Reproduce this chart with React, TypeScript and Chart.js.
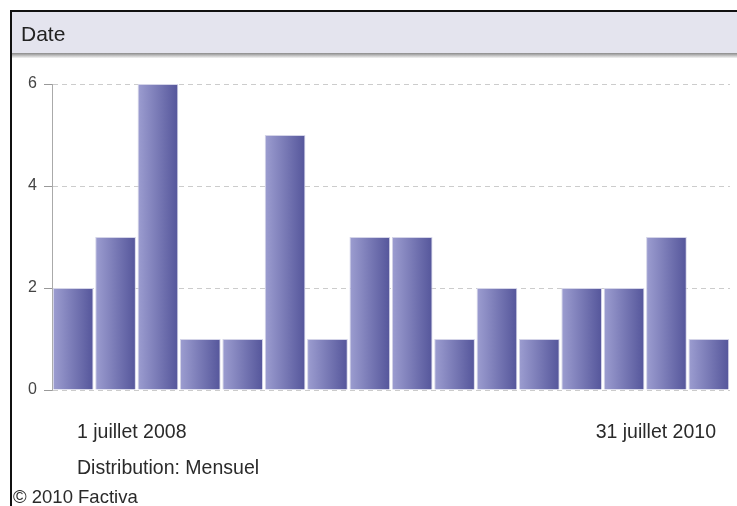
import React, { useEffect, useRef } from "react";
import { Chart, registerables } from "chart.js";

Chart.register(...registerables);

const categories = ["1", "2", "3", "4", "5", "6", "7", "8", "9", "10", "11", "12", "13", "14", "15", "16"];
const counts = [2, 3, 6, 1, 1, 5, 1, 3, 3, 1, 2, 1, 2, 2, 3, 1];
const yTicks = [0, 2, 4, 6];
const headerTitle = "Date";
const startLabel = "1 juillet 2008";
const endLabel = "31 juillet 2010";
const distributionLabel = "Distribution: Mensuel";
const copyrightLabel = "© 2010 Factiva";

const FONT = "'Liberation Sans', Arial, sans-serif";

const framePlugin = {
  id: "frame",
  beforeDraw(chart: any) {
    const ctx = chart.ctx;
    const w = chart.width;
    ctx.save();
    ctx.fillStyle = "#ffffff";
    ctx.fillRect(0, 0, w, chart.height);
    // header
    ctx.fillStyle = "#e4e4ee";
    ctx.fillRect(11, 11, w - 11, 42);
    const g = ctx.createLinearGradient(0, 53, 0, 58);
    g.addColorStop(0, "#8a8a8a");
    g.addColorStop(1, "#f4f4f4");
    ctx.fillStyle = g;
    ctx.fillRect(11, 53, w - 11, 5);
    // black borders
    ctx.fillStyle = "#111111";
    ctx.fillRect(10, 10, w - 10, 2);
    ctx.fillRect(10, 10, 2, chart.height - 10);
    ctx.fillStyle = "#222222";
    ctx.font = `21px ${FONT}`;
    ctx.textBaseline = "alphabetic";
    ctx.textAlign = "left";
    ctx.fillText(headerTitle, 21, 41);
    ctx.restore();
  },
  afterDraw(chart: any) {
    const ctx = chart.ctx;
    ctx.save();
    ctx.fillStyle = "#2a2a2a";
    ctx.font = `19.5px ${FONT}`;
    ctx.textBaseline = "alphabetic";
    ctx.textAlign = "left";
    ctx.fillText(startLabel, 77, 438);
    ctx.textAlign = "right";
    ctx.fillText(endLabel, 716, 438);
    ctx.textAlign = "left";
    ctx.fillText(distributionLabel, 77, 474);
    ctx.font = `18.5px ${FONT}`;
    ctx.fillText(copyrightLabel, 13, 503);
    ctx.restore();
  },
};

export default function App() {
  const ref = useRef<HTMLCanvasElement | null>(null);

  useEffect(() => {
    if (!ref.current) return;
    const chart = new Chart(ref.current, {
      type: "bar",
      data: {
        labels: categories,
        datasets: [
          {
            data: counts,
            backgroundColor: (c: any) => {
              const ch = c.chart;
              const x = ch.scales?.x;
              if (!ch.chartArea || !x || c.dataIndex === undefined) return "#7878b4";
              const center = x.getPixelForValue(c.dataIndex);
              const half = 20;
              const grad = ch.ctx.createLinearGradient(center - half, 0, center + half, 0);
              grad.addColorStop(0, "#9c9dd0");
              grad.addColorStop(1, "#55569b");
              return grad;
            },
            borderColor: "#d4d4e8",
            borderWidth: 1,
            barPercentage: 0.96,
            categoryPercentage: 1,
          },
        ],
      },
      options: {
        animation: false,
        responsive: true,
        maintainAspectRatio: false,
        layout: { padding: { left: 0, right: 7, top: 84, bottom: 116 } },
        plugins: { legend: { display: false }, tooltip: { enabled: false } },
        scales: {
          x: { display: false, offset: true },
          y: {
            min: 0,
            max: 6,
            afterFit(scale: any) {
              scale.width = 52;
            },
            afterBuildTicks(scale: any) {
              scale.ticks = yTicks.map((v) => ({ value: v }));
            },
            ticks: {
              color: "#444444",
              font: { family: FONT, size: 16 },
              padding: 7,
            },
            grid: {
              color: "#cccccc",
              tickColor: "#999999",
              tickLength: 8,
              lineWidth: 1,
            },
            border: { display: true, color: "#aaaaaa", width: 1, dash: [5, 4] },
          },
        },
      },
      plugins: [framePlugin],
    });
    return () => chart.destroy();
  }, []);

  return (
    <div style={{ position: "absolute", left: 0, top: 0, width: 737, height: 506 }}>
      <canvas ref={ref} />
    </div>
  );
}
